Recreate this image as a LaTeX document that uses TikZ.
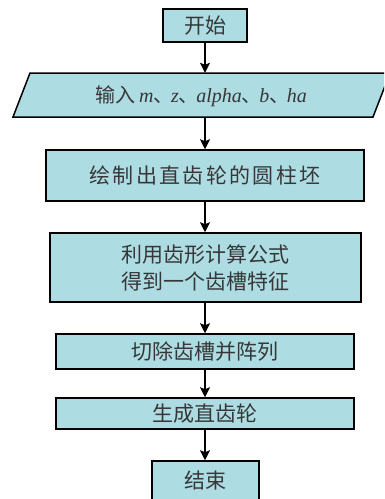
\documentclass[tikz,border=0pt]{standalone}
\usepackage{fontspec}
\setmainfont{Liberation Serif}
\newfontfamily\cjk{Noto Sans CJK SC}
\newfontfamily\lat{Liberation Serif}
\usetikzlibrary{arrows.meta}
\definecolor{boxfill}{RGB}{173,220,227}
\definecolor{txt}{RGB}{55,55,55}
\newcommand\li[1]{{\lat\itshape #1}}
\newcommand\dun{、\kern-2.5pt}
\begin{document}
\begin{tikzpicture}[x=1pt,y=-1pt,
  box/.style={draw=black, line width=1.5pt, fill=boxfill, text=txt,
    font=\cjk\fontsize{21}{27}\selectfont, inner sep=0pt, align=center},
  ghost/.style={inner sep=0pt, text=txt, font=\cjk\fontsize{20}{27}\selectfont},
  arr/.style={-{Stealth[length=10pt,width=10pt,inset=2pt]}, line width=1.5pt}]
\clip (0,0) rectangle (384,499);
\fill[white] (0,0) rectangle (384,499);
\node[box, minimum width=84pt, minimum height=33pt] (start) at (205,25.5) {开始};
\draw[line width=1.5pt, fill=boxfill] (13,117) -- (30,73) -- (390,73) -- (373,117) -- cycle;
\node[ghost, minimum width=300pt, minimum height=44pt] (input) at (205,95) {};
\node[ghost, anchor=west] (inputtext) at (95,96)
  {输入\kern4pt\li{m}\dun\li{z}\dun\li{alpha}\dun\li{b}\dun\li{ha}};
\node[box, minimum width=318pt, minimum height=51pt] (cyl) at (205,175.5)
  {\addfontfeatures{LetterSpace=11}绘制出直齿轮的圆柱坯};
\node[box, minimum width=311pt, minimum height=69pt] (slot) at (205.5,267.5)
  {利用齿形计算公式\\得到一个齿槽特征};
\node[box, minimum width=298pt, minimum height=35pt] (cut) at (205,351.5) {切除齿槽并阵列};
\node[box, minimum width=298pt, minimum height=31pt] (gen) at (205,413.5) {生成直齿轮};
\node[box, minimum width=107pt, minimum height=40pt] (end) at (205.5,481) {结束};
\draw[arr] (start.south) -- (input.north);
\draw[arr] (input.south) -- (cyl.north -| input.south);
\draw[arr] (cyl.south -| input.south) -- (slot.north -| input.south);
\draw[arr] (slot.south -| input.south) -- (cut.north -| input.south);
\draw[arr] (cut.south) -- (gen.north);
\draw[arr] (gen.south) -- (end.north -| gen.south);
\end{tikzpicture}
\end{document}
